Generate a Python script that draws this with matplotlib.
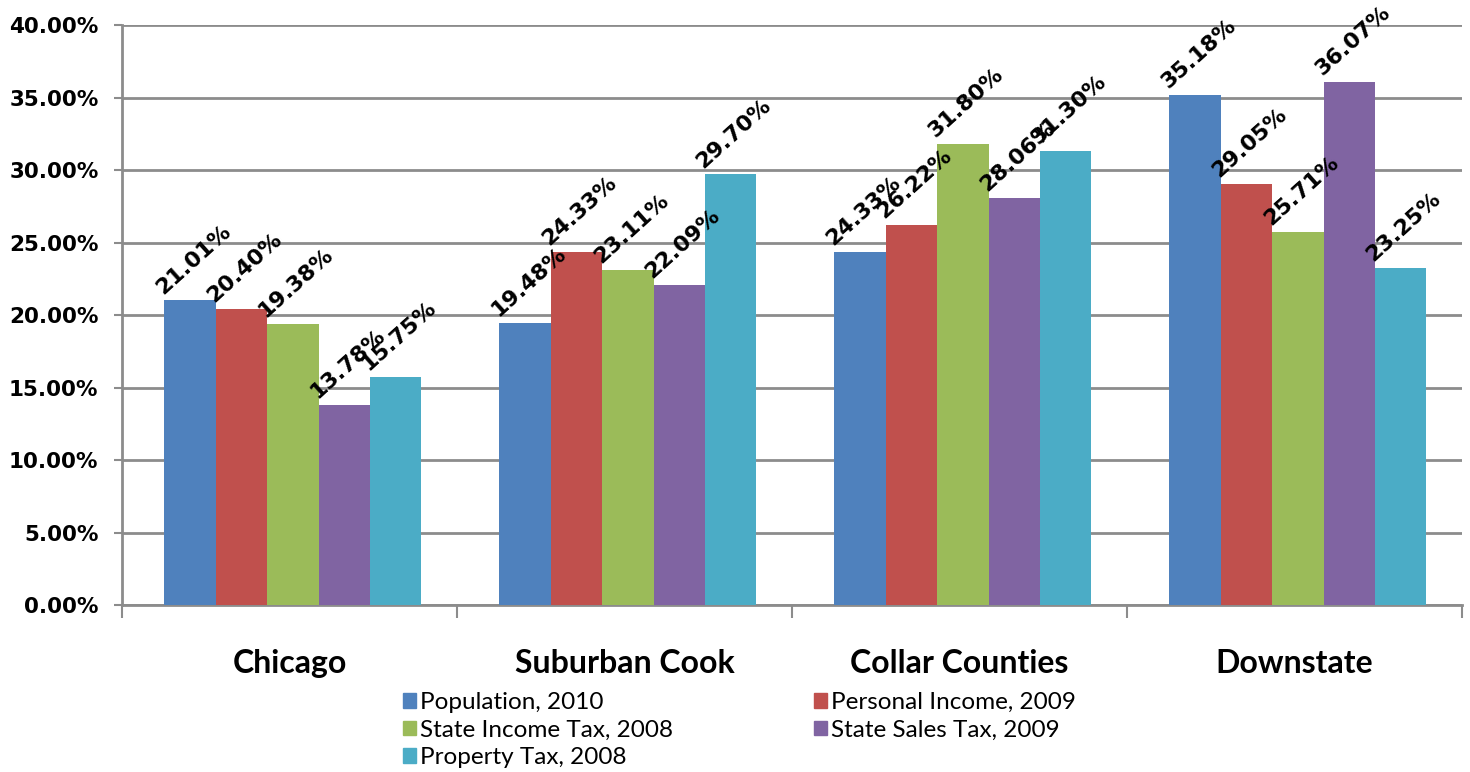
import numpy as np
import matplotlib
matplotlib.use('Agg')
import matplotlib.pyplot as plt
from matplotlib.patches import Patch

regions = ["Chicago", "Suburban Cook", "Collar Counties", "Downstate"]
series = ["Population, 2010", "Personal Income, 2009", "State Income Tax, 2008",
          "State Sales Tax, 2009", "Property Tax, 2008"]
population = [21.01, 19.48, 24.33, 35.18]
personal_income = [20.40, 24.33, 26.22, 29.05]
income_tax = [19.38, 23.11, 31.80, 25.71]
sales_tax = [13.78, 22.09, 28.06, 36.07]
property_tax = [15.75, 29.70, 31.30, 23.25]
yticks = [0, 5, 10, 15, 20, 25, 30, 35, 40]

values = [population, personal_income, income_tax, sales_tax, property_tax]
colors = ["#4F81BD", "#C0504D", "#9BBB59", "#8064A2", "#4BACC6"]
grid_col = "#8c8c8c"

fig = plt.figure(figsize=(14.7, 7.72), dpi=100)
ax = fig.add_axes([0.083, 0.2163, 0.9116, 0.7513])

x = np.arange(len(regions))
w = 0.1534
bars = []
for i in range(len(series)):
    xs = x + 0.01 + (i - 2) * w
    b = ax.bar(xs, values[i], width=w, color=colors[i], zorder=3)
    bars.append(b)
    for xi, v in zip(xs, values[i]):
        ax.annotate("%.2f%%" % v, (xi - w / 2, v), xytext=(1, 2), textcoords="offset points",
                    ha="left", va="bottom", rotation=42, rotation_mode="anchor",
                    fontsize=16, fontweight="bold", family="DejaVu Sans", zorder=4)

ax.set_xlim(-0.5, len(regions) - 0.5)
ax.set_ylim(0, 40)
ax.set_yticks(yticks)
ax.set_yticklabels(["%.2f%%" % t for t in yticks], fontsize=15.5, fontweight="bold", family="DejaVu Sans")
ax.yaxis.grid(True, color=grid_col, linewidth=2, zorder=0)
ax.tick_params(axis="y", length=6, width=1.5, color=grid_col, pad=11)

ax.set_xticks(x)
ax.set_xticklabels(regions, fontsize=23, fontweight="bold", family="Lato")
ax.set_xticks(np.arange(len(regions) + 1) - 0.5, minor=True)
ax.tick_params(axis="x", which="major", length=0, pad=32)
ax.tick_params(axis="x", which="minor", length=9, width=1.5, color=grid_col)

for s in ["top", "right"]:
    ax.spines[s].set_visible(False)
for s in ["left", "bottom"]:
    ax.spines[s].set_color(grid_col)
    ax.spines[s].set_linewidth(2)

order = [0, 2, 4, 1, 3]
handles = [Patch(color=colors[i]) for i in order]
labels = [series[i] for i in order]
fig.legend(handles, labels, loc="upper left", bbox_to_anchor=(0.274, 0.1035), ncol=2,
           frameon=False, prop={"family": "Lato", "size": 17.5},
           handlelength=0.55, handleheight=0.55, handletextpad=0.15,
           columnspacing=5.8, labelspacing=0.27, borderaxespad=0, borderpad=0)

fig.savefig("out.png", dpi=100)
